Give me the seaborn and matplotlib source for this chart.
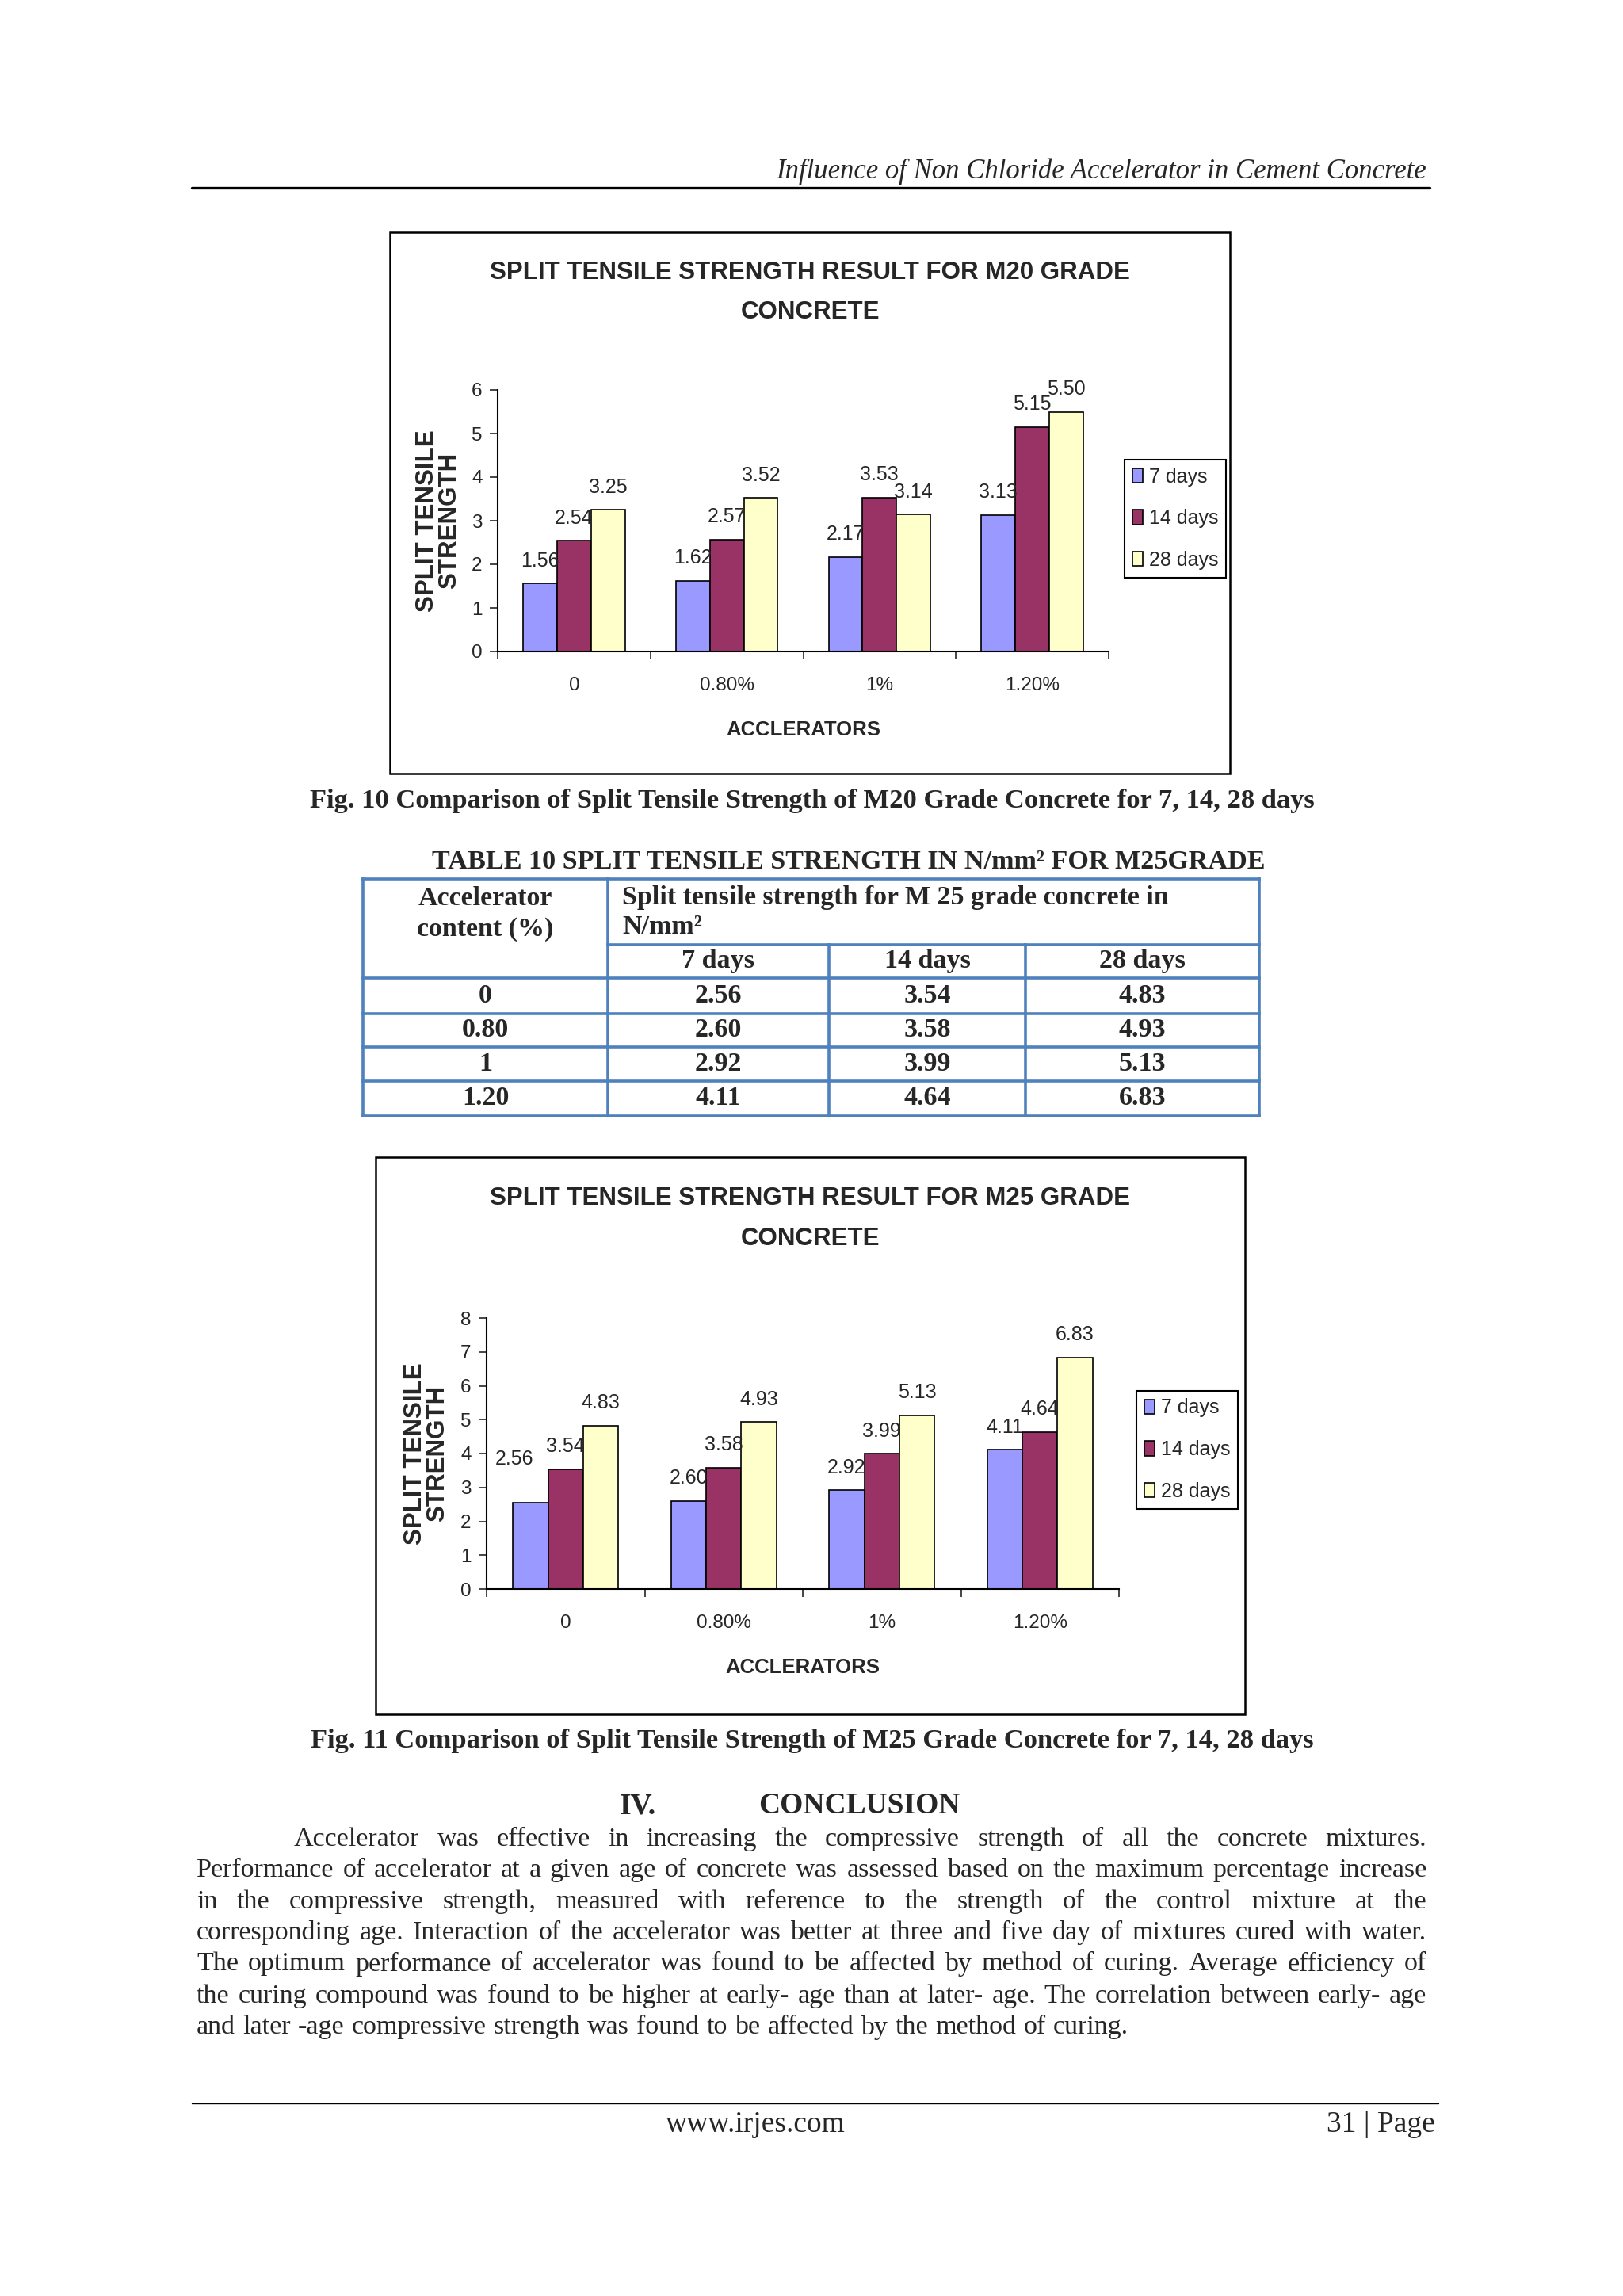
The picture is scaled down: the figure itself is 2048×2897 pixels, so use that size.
import matplotlib.pyplot as plt
import pandas as pd
import seaborn as sns
from matplotlib.patches import Rectangle

sns.set_style("white")

# data
accelerators = ['0', '0.80%', '1%', '1.20%']
ages = ['7 days', '14 days', '28 days']
m20_7 = [1.56, 1.62, 2.17, 3.13]
m20_14 = [2.54, 2.57, 3.53, 5.15]
m20_28 = [3.25, 3.52, 3.14, 5.50]
m25_7 = [2.56, 2.60, 2.92, 4.11]
m25_14 = [3.54, 3.58, 3.99, 4.64]
m25_28 = [4.83, 4.93, 5.13, 6.83]
table_content = ['0', '0.80', '1', '1.20']
colors = ['#9999FF', '#993366', '#FFFFCC']

paragraph = [
    "Accelerator was effective in increasing the compressive strength of all the concrete mixtures.",
    "Performance of accelerator at a given age of concrete was assessed based on the maximum percentage increase",
    "in the compressive strength, measured with reference to the strength of the control mixture at the",
    "corresponding age. Interaction of the accelerator was better at three and five day of mixtures cured with water.",
    "The optimum performance of accelerator was found to be affected by method of curing. Average efficiency of",
    "the curing compound was found to be higher at early- age than at later- age. The correlation between early- age",
    "and later -age compressive strength was found to be affected by the method of curing.",
]

CF = 'Liberation Sans'
SERIF = 'Liberation Serif'
plt.rcParams['font.family'] = [CF, 'DejaVu Sans']

W, H = 2048, 2897
fig = plt.figure(figsize=(W / 100, H / 100), dpi=100)
page = fig.add_axes([0, 0, 1, 1])
page.set_xlim(0, W)
page.set_ylim(H, 0)
page.axis('off')


def long_df(a, b, c):
    return pd.DataFrame({'Accelerator': accelerators * 3,
                         'Age': [ag for ag in ages for _ in accelerators],
                         'Strength': a + b + c})


def chart(df, box, axbox, ymax, grade, title_y, leg_xy, ylab_x, nudge_first=None):
    x0, y0, x1, y1 = box
    page.add_patch(Rectangle((x0, y0), x1 - x0, y1 - y0, fill=False, ec='black', lw=1.8))
    cx = (x0 + x1) / 2
    page.text(cx, title_y[0], 'SPLIT TENSILE STRENGTH RESULT FOR ' + grade + ' GRADE',
              ha='center', va='center', fontsize=22.5, fontweight='bold')
    page.text(cx, title_y[1], 'CONCRETE', ha='center', va='center', fontsize=22.5, fontweight='bold')

    l, t, r, b = axbox
    ax = fig.add_axes([l / W, 1 - b / H, (r - l) / W, (b - t) / H])
    ax.patch.set_alpha(0)
    sns.barplot(data=df, x='Accelerator', y='Strength', hue='Age', palette=colors, saturation=1,
                width=0.667, edgecolor='black', linewidth=1.2, errorbar=None, ax=ax)
    ax.set_xlim(-0.5, 3.5)
    ax.set_ylim(0, ymax)
    ax.set_yticks(range(ymax + 1))
    ax.set_xticks([-0.5, 0.5, 1.5, 2.5, 3.5], labels=[''] * 5)
    ax.set_xticks(range(4), labels=accelerators, minor=True)
    ax.tick_params(axis='x', which='major', bottom=True, length=7.5, width=1.2, direction='out')
    ax.tick_params(axis='x', which='minor', bottom=True, length=0, pad=23, labelsize=17.5)
    ax.tick_params(axis='y', left=True, length=7, width=1.2, pad=7, labelsize=17.5, direction='out')
    sns.despine(ax=ax)
    for s in ['left', 'bottom']:
        ax.spines[s].set_color('black')
        ax.spines[s].set_linewidth(1.5)
    ax.set_xlabel('ACCLERATORS', fontsize=18.5, fontweight='bold', labelpad=24)
    ax.set_ylabel('')
    page.text(ylab_x, (t + b) / 2, 'SPLIT TENSILE\nSTRENGTH', rotation=90, ha='center', va='center',
              multialignment='center', family='Liberation Sans', fontweight='bold', fontsize=22.5,
              linespacing=0.95)

    for i, cont in enumerate(ax.containers):
        labels = ax.bar_label(cont, fmt='%.2f', padding=12, fontsize=18)
        if i == 0 and nudge_first:
            labels[0].xyann = nudge_first

    leg = ax.legend(loc='upper left', bbox_to_anchor=(leg_xy[0] / W, 1 - leg_xy[1] / H),
                    bbox_transform=fig.transFigure, frameon=True, fancybox=False, edgecolor='black',
                    framealpha=1, fontsize=18, handlelength=0.55, handleheight=0.75,
                    handletextpad=0.3, labelspacing=1.15, borderpad=0.38, borderaxespad=0)
    leg.get_frame().set_linewidth(1.5)
    return ax


# header
page.text(1800, 216, 'Influence of Non Chloride Accelerator in Cement Concrete', ha='right', va='center',
          style='italic', family=SERIF, fontsize=25)
page.plot([242, 1804], [237, 237], color='black', lw=2.4)

chart(long_df(m20_7, m20_14, m20_28), (492, 293, 1552, 976), (628, 492, 1399, 822), 6, 'M20',
      (344, 394), (1419, 580), 553)
page.text(1025, 1011, 'Fig. 10 Comparison of Split Tensile Strength of M20 Grade Concrete for 7, 14, 28 days',
          ha='center', va='center', family=SERIF, fontweight='bold', fontsize=24.8)

# table 10
page.text(1071, 1088, 'TABLE 10 SPLIT TENSILE STRENGTH IN N/mm\u00b2 FOR M25GRADE', ha='center', va='center',
          family=SERIF, fontweight='bold', fontsize=24.6)
cols = [458, 767, 1046, 1294, 1589]
rows = [1109, 1192, 1234, 1279, 1321, 1364, 1408]
blue = '#4F81BD'
tk = dict(color=blue, lw=2.6, solid_capstyle='projecting')
page.plot([cols[0], cols[-1]], [rows[0]] * 2, **tk)
page.plot([cols[1], cols[-1]], [rows[1]] * 2, **tk)
for r in rows[2:]:
    page.plot([cols[0], cols[-1]], [r, r], **tk)
for c in [cols[0], cols[1], cols[-1]]:
    page.plot([c, c], [rows[0], rows[-1]], **tk)
for c in cols[2:4]:
    page.plot([c, c], [rows[1], rows[-1]], **tk)
tt = dict(family=SERIF, fontweight='bold', fontsize=24.5, va='center')
page.text((cols[0] + cols[1]) / 2, 1133, 'Accelerator', ha='center', **tt)
page.text((cols[0] + cols[1]) / 2, 1172, 'content (%)', ha='center', **tt)
page.text(785, 1133, 'Split tensile strength for M 25 grade concrete in', ha='left', **tt)
page.text(785, 1170, 'N/mm\u00b2', ha='left', **tt)
for j, ag in enumerate(ages):
    page.text((cols[j + 1] + cols[j + 2]) / 2, (rows[1] + rows[2]) / 2, ag, ha='center', **tt)
for i, acc in enumerate(table_content):
    yc = (rows[i + 2] + rows[i + 3]) / 2
    page.text((cols[0] + cols[1]) / 2, yc, acc, ha='center', **tt)
    for j, v in enumerate([m25_7[i], m25_14[i], m25_28[i]]):
        page.text((cols[j + 1] + cols[j + 2]) / 2, yc, f'{v:.2f}', ha='center', **tt)

chart(long_df(m25_7, m25_14, m25_28), (474, 1460, 1571, 2163), (614, 1663, 1412, 2005), 8, 'M25',
      (1512, 1563), (1434, 1755), 538, nudge_first=(-15, 31))
page.text(1025, 2197, 'Fig. 11 Comparison of Split Tensile Strength of M25 Grade Concrete for 7, 14, 28 days',
          ha='center', va='center', family=SERIF, fontweight='bold', fontsize=24.8)

# conclusion
page.text(782, 2279, 'IV.', ha='left', va='center', family=SERIF, fontweight='bold', fontsize=27)
page.text(957, 2279, 'CONCLUSION', ha='left', va='center', family=SERIF, fontweight='bold', fontsize=27)

renderer = fig.canvas.get_renderer()
line_y = [2321, 2360, 2400, 2439, 2478, 2519, 2558]


def set_paragraph(fs):
    placed = []
    for n, (line, y) in enumerate(zip(paragraph, line_y)):
        x0 = 371 if n == 0 else 248
        words = line.split()
        texts = [page.text(0, y, w, ha='left', va='center', family=SERIF, fontsize=fs) for w in words]
        widths = [t.get_window_extent(renderer).width for t in texts]
        if n == len(paragraph) - 1:
            gap = 0.27 * fs * 100 / 72
        else:
            gap = (1800 - x0 - sum(widths)) / (len(words) - 1)
        x = x0
        for t, w in zip(texts, widths):
            t.set_x(x)
            x += w + gap
        placed.append((texts, gap))
    return placed


fs = 24.5
while True:
    placed = set_paragraph(fs)
    if min(g for _, g in placed[:-1]) >= 5 or fs < 18:
        break
    for texts, _ in placed:
        for t in texts:
            t.remove()
    fs -= 0.3

# footer
page.plot([242, 1815], [2654, 2654], color='black', lw=1.0)
page.text(953, 2681, 'www.irjes.com', ha='center', va='center', family=SERIF, fontsize=27)
page.text(1811, 2681, '31 | Page', ha='right', va='center', family=SERIF, fontsize=27)

fig.savefig('out.png', dpi=100)
